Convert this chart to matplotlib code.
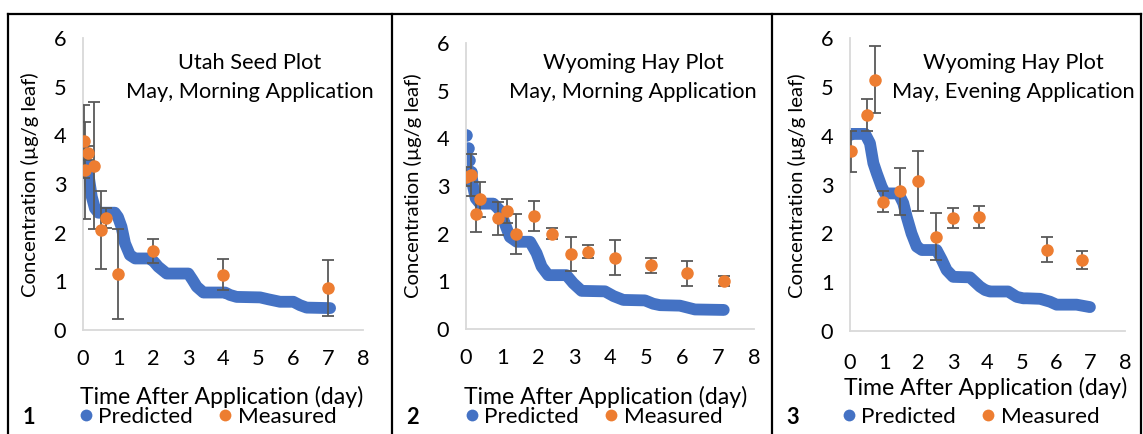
import matplotlib
matplotlib.use("Agg")
import matplotlib.pyplot as plt
from matplotlib.lines import Line2D

plt.rcParams["font.family"] = ["Lato", "DejaVu Sans"]

BLUE = "#4472C4"
ORANGE = "#ED7D31"
ERR = "#595959"
AXIS = "#D9D9D9"

# --- panel 1: Utah seed plot, May morning application
p1_pred_t = [0.0, 0.04, 0.06, 0.15, 0.25, 0.34, 0.44, 0.91, 1.0, 1.1, 1.2, 1.34, 1.49, 1.91,
             2.03, 2.15, 2.39, 3.01, 3.13, 3.25, 3.44, 4.06, 4.2, 4.39, 5.06, 5.3, 5.63, 6.01,
             6.2, 6.39, 7.06]
p1_pred_c = [3.65, 3.64, 3.51, 3.22, 2.74, 2.50, 2.41, 2.41, 2.32, 2.12, 1.78, 1.54, 1.47, 1.47,
             1.40, 1.30, 1.16, 1.16, 1.03, 0.89, 0.77, 0.77, 0.72, 0.68, 0.67, 0.63, 0.58, 0.58,
             0.51, 0.46, 0.45]
p1_meas_t = [0.03, 0.06, 0.15, 0.32, 0.50, 0.67, 1.00, 2.00, 4.00, 7.00]
p1_meas_c = [3.88, 3.28, 3.64, 3.38, 2.05, 2.30, 1.15, 1.62, 1.14, 0.86]
p1_meas_e = [0.75, 1.00, 0.15, 1.31, 0.80, 0.20, 0.93, 0.25, 0.31, 0.57]

# --- panel 2: Wyoming hay plot, May morning application
p2_pred_t = [0.0, 0.05, 0.09, 0.14, 0.20, 0.27, 0.39, 0.76, 0.94, 1.08, 1.22, 1.41, 1.78, 1.96,
             2.10, 2.28, 2.79, 2.98, 3.21, 3.86, 4.1, 4.37, 4.97, 5.2, 5.39, 5.94, 6.15, 6.36,
             7.16]
p2_pred_c = [4.06, 3.80, 3.54, 3.30, 2.98, 2.74, 2.63, 2.63, 2.49, 2.21, 1.93, 1.83, 1.83, 1.59,
             1.31, 1.13, 1.13, 0.96, 0.80, 0.79, 0.69, 0.61, 0.60, 0.53, 0.50, 0.49, 0.45, 0.41,
             0.40]
p2_meas_t = [0.00, 0.14, 0.27, 0.39, 0.90, 1.15, 1.38, 1.89, 2.40, 2.93, 3.40, 4.14, 5.15,
             6.15, 7.16]
p2_meas_c = [3.19, 3.23, 2.42, 2.72, 2.32, 2.47, 2.00, 2.37, 2.00, 1.57, 1.62, 1.50, 1.34,
             1.17, 1.01]
p2_meas_e = [0.20, 0.44, 0.38, 0.37, 0.35, 0.25, 0.42, 0.31, 0.12, 0.36, 0.14, 0.36, 0.16,
             0.26, 0.11]

# --- panel 3: Wyoming hay plot, May evening application
p3_pred_t = [0.0, 0.44, 0.58, 0.68, 0.78, 0.92, 1.02, 1.41, 1.55, 1.65, 1.79, 1.94, 2.09, 2.52,
             2.67, 2.81, 3.0, 3.49, 3.78, 3.93, 4.07, 4.6, 4.85, 5.04, 5.14, 5.53, 5.82, 6.01,
             6.59, 6.98]
p3_pred_c = [4.04, 4.04, 3.85, 3.44, 3.23, 2.96, 2.82, 2.82, 2.62, 2.34, 2.00, 1.73, 1.66, 1.66,
             1.46, 1.25, 1.11, 1.10, 0.91, 0.84, 0.81, 0.81, 0.70, 0.67, 0.67, 0.66, 0.60, 0.54,
             0.54, 0.49]
p3_meas_t = [0.03, 0.49, 0.73, 0.97, 1.45, 1.99, 2.49, 2.99, 3.75, 5.74, 6.76]
p3_meas_c = [3.68, 4.43, 5.15, 2.65, 2.86, 3.07, 1.93, 2.32, 2.34, 1.67, 1.46]
p3_meas_e = [0.43, 0.33, 0.69, 0.22, 0.48, 0.61, 0.48, 0.20, 0.23, 0.25, 0.19]

titles = [("Utah Seed Plot", "May, Morning Application"),
          ("Wyoming Hay Plot", "May, Morning Application"),
          ("Wyoming Hay Plot", "May, Evening Application")]
numbers = ["1", "2", "3"]

W, H = 1143, 434
fig = plt.figure(figsize=(W / 100, H / 100), dpi=100)


def fx(x):
    return x / W


def fy(y):
    return 1 - y / H


# axes boxes in pixels: (x at t=0, x at t=8, y at c=6, y at c=0)
boxes = [(83, 363, 38, 330), (466, 754, 43, 329), (850, 1125, 38.3, 331)]
# text anchors per panel in pixels
rows = [dict(ylab=30, ylab_y=185, xl=397, xl_x=222, leg=417, legx=80, num=29, title=250),
        dict(ylab=413, ylab_y=186, xl=397, xl_x=606, leg=417, legx=466, num=412, title=633),
        dict(ylab=797, ylab_y=186, xl=388, xl_x=986, leg=417, legx=843, num=793, title=1013)]
xtick_pad = [14, 14, 16]
# separate leading dots for the predicted series
lead_dots = [2, 4, 1]

series = [(p1_pred_t, p1_pred_c, p1_meas_t, p1_meas_c, p1_meas_e),
          (p2_pred_t, p2_pred_c, p2_meas_t, p2_meas_c, p2_meas_e),
          (p3_pred_t, p3_pred_c, p3_meas_t, p3_meas_c, p3_meas_e)]

FS = 15.7

for i, (pt, pc, mt, mc, me) in enumerate(series):
    x0, x8, y6, y0 = boxes[i]
    r = rows[i]
    ax = fig.add_axes([fx(x0), fy(y0), fx(x8 - x0), (y0 - y6) / H])
    ax.set_xlim(0, 8)
    ax.set_ylim(0, 6)
    ax.set_xticks(range(0, 9))
    ax.set_yticks(range(0, 7))
    for s in ("top", "right"):
        ax.spines[s].set_visible(False)
    for s in ("left", "bottom"):
        ax.spines[s].set_color(AXIS)
        ax.spines[s].set_linewidth(1.3)
    ax.tick_params(length=0, labelsize=FS, colors="#000000")
    ax.tick_params(axis="y", pad=12)
    ax.tick_params(axis="x", pad=xtick_pad[i])
    ax.patch.set_alpha(0)

    n = lead_dots[i]
    ax.plot(pt[:n], pc[:n], "o", color=BLUE, ms=9, mec="none", zorder=2)
    ax.plot(pt[n - 1:], pc[n - 1:], "-", color=BLUE, lw=8.5, solid_capstyle="round",
            solid_joinstyle="round", zorder=2)
    ax.errorbar(mt, mc, yerr=me, fmt="o", color=ORANGE, ms=9, mec="none",
                ecolor=ERR, elinewidth=1.3, capsize=4, capthick=1.3, zorder=3)

    # plot caption inside the axes
    cx = (r["title"] - x0) / (x8 - x0) * 8
    ax.text(cx, (y0 - 63) / (y0 - y6) * 6, titles[i][0], ha="center", va="center", fontsize=FS)
    ax.text(cx, (y0 - 92) / (y0 - y6) * 6, titles[i][1], ha="center", va="center", fontsize=FS)

    fig.text(fx(r["ylab"]), fy(r["ylab_y"]), "Concentration (µg/g leaf)", rotation=90,
             ha="center", va="center", fontsize=14.6)
    fig.text(fx(r["xl_x"]), fy(r["xl"]), "Time After Application (day)",
             ha="center", va="center", fontsize=16.6)
    fig.text(fx(r["num"]), fy(r["leg"]), numbers[i], ha="center", va="center",
             fontsize=FS, fontweight="bold")

    handles = [Line2D([], [], ls="none", marker="o", color=BLUE, ms=8.5, mec="none"),
               Line2D([], [], ls="none", marker="o", color=ORANGE, ms=8.5, mec="none")]
    fig.legend(handles, ["Predicted", "Measured"], loc="center left",
               bbox_to_anchor=(fx(r["legx"]), fy(r["leg"])), ncol=2,
               frameon=False, fontsize=16.2, handlelength=0.5, handletextpad=0.3,
               columnspacing=1.2, borderpad=0, borderaxespad=0)

# panel frames
frame = dict(color="black", lw=1.6, transform=fig.transFigure, clip_on=False)
fig.add_artist(Line2D([fx(8), fx(1141)], [fy(13.5), fy(13.5)], **frame))
for xv in (8, 391.5, 771.5, 1141):
    fig.add_artist(Line2D([fx(xv), fx(xv)], [fy(13.5), 0], **frame))

fig.savefig("out.png", dpi=100, facecolor="white")
